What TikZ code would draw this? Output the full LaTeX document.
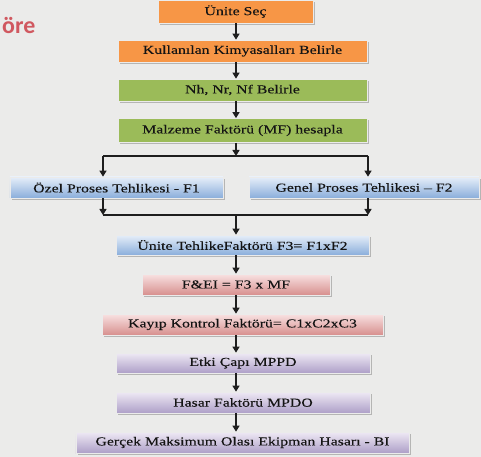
\documentclass[tikz,border=0pt]{standalone}
\usepackage{fontspec}
\setmainfont{Liberation Serif}
\newfontfamily\boxfont{Liberation Serif}[FakeBold=0.15]
\newfontfamily\headfont{Carlito}
\usetikzlibrary{arrows.meta,shadows}

\definecolor{bgcol}{HTML}{EBEBEA}
\definecolor{orangefill}{HTML}{F79646}
\definecolor{greenfill}{HTML}{9BBB59}
\definecolor{bluetop}{HTML}{E6EEF9}
\definecolor{bluebot}{HTML}{8AAEDB}
\definecolor{redtop}{HTML}{F8E2E2}
\definecolor{redbot}{HTML}{D78F8E}
\definecolor{purptop}{HTML}{EEE9F4}
\definecolor{purpbot}{HTML}{AE9FC8}
\definecolor{titlered}{HTML}{CC3F48}
\definecolor{arrowcol}{HTML}{1E1E1E}

% horizontally widened serif text
\newcommand\widetxt[1]{\scalebox{1.3}[1]{#1}}

\tikzset{
  stepbox/.style={draw=white!92!black, line width=0.7bp, inner sep=0pt,
    font=\boxfont\fontsize{12.2}{14}\selectfont, text=black!92,
    drop shadow={shadow xshift=2bp, shadow yshift=-2bp, fill=black!50, opacity=0.5}},
  orangebox/.style={stepbox, fill=orangefill},
  greenbox/.style={stepbox, fill=greenfill},
  bluebox/.style={stepbox, top color=bluetop, bottom color=bluebot},
  redbox/.style={stepbox, top color=redtop, bottom color=redbot},
  purplebox/.style={stepbox, top color=purptop, bottom color=purpbot},
  flowline/.style={draw=arrowcol, line width=1.3bp},
  flowarrow/.style={flowline, -{Triangle[width=7bp,length=6bp]}}
}

\begin{document}
\begin{tikzpicture}[x=1bp,y=-1bp]
  \useasboundingbox (0,0) rectangle (481,457);
  \clip (0,0) rectangle (481,457);
  \fill[bgcol] (0,0) rectangle (481,457);

  % heading fragment at the left edge
  \node[anchor=base west, inner sep=0pt, text=titlered, font=\headfont\bfseries\fontsize{24}{28}\selectfont, opacity=0.85]
    (heading) at (2,34) {öre};

  % process steps
  \node[orangebox, minimum width=155bp, minimum height=23bp] (unite) at (235.5,11.5) {\widetxt{Ünite Seç}};
  \node[orangebox, minimum width=249bp, minimum height=22bp] (kimya) at (242.5,51) {\widetxt{Kullanılan Kimyasalları Belirle}};
  \node[greenbox, minimum width=249bp, minimum height=22bp] (nh) at (242.5,90) {\widetxt{Nh, Nr, Nf Belirle}};
  \node[greenbox, minimum width=249bp, minimum height=24bp] (mf) at (242.5,130.5) {\widetxt{Malzeme Faktörü (MF) hesapla}};

  \node[bluebox, minimum width=213bp, minimum height=21bp] (ozel) at (116.5,187.5) {\widetxt{Özel Proses Tehlikesi - F1}};
  \node[bluebox, minimum width=230bp, minimum height=21bp] (genel) at (364,187.5) {\widetxt{Genel Proses Tehlikesi – F2}};

  \node[bluebox, minimum width=253bp, minimum height=20bp] (f3) at (242.5,245) {\widetxt{Ünite TehlikeFaktörü F3= F1xF2}};
  \node[redbox, minimum width=188bp, minimum height=21bp] (fei) at (236,284.5) {\widetxt{F\&EI = F3 x MF}};
  \node[redbox, minimum width=281bp, minimum height=21bp] (kayip) at (242.5,324.5) {\widetxt{Kayıp Kontrol Faktörü= C1xC2xC3}};
  \node[purplebox, minimum width=254bp, minimum height=20bp] (etki) at (243,363) {\widetxt{Etki Çapı MPPD}};
  \node[purplebox, minimum width=254bp, minimum height=21bp] (hasar) at (243,402.5) {\widetxt{Hasar Faktörü MPDO}};
  \node[purplebox, minimum width=333bp, minimum height=21bp] (bi) at (242.5,442.5) {\widetxt{Gerçek Maksimum Olası Ekipman Hasarı - BI}};

  % connector guide points
  \coordinate (ax) at (236,0);
  \coordinate (sl) at (103,156);
  \coordinate (sc) at (236,156);
  \coordinate (sr) at (368,156);
  \coordinate (jl) at (103,215);
  \coordinate (jc) at (236,215);
  \coordinate (jr) at (368,215);

  % main column
  \draw[flowarrow] (unite.south -| ax) -- (kimya.north -| ax);
  \draw[flowarrow] (kimya.south -| ax) -- (nh.north -| ax);
  \draw[flowarrow] (nh.south -| ax) -- (mf.north -| ax);

  % split into the two process hazards
  \draw[flowarrow] (mf.south -| ax) -- (sc);
  \draw[flowline] (sl) -- (sr);
  \draw[flowarrow] (sl) -- (ozel.north -| sl);
  \draw[flowarrow] (sr) -- (genel.north -| sr);

  % join back
  \draw[flowarrow] (ozel.south -| jl) -- (jl);
  \draw[flowarrow] (genel.south -| jr) -- (jr);
  \draw[flowline] (jl) -- (jr);
  \draw[flowarrow] (jc) -- (f3.north -| jc);

  \draw[flowarrow] (f3.south -| ax) -- (fei.north -| ax);
  \draw[flowarrow] (fei.south -| ax) -- (kayip.north -| ax);
  \draw[flowarrow] (kayip.south -| ax) -- (etki.north -| ax);
  \draw[flowarrow] (etki.south -| ax) -- (hasar.north -| ax);
  \draw[flowarrow] (hasar.south -| ax) -- (bi.north -| ax);
\end{tikzpicture}
\end{document}
